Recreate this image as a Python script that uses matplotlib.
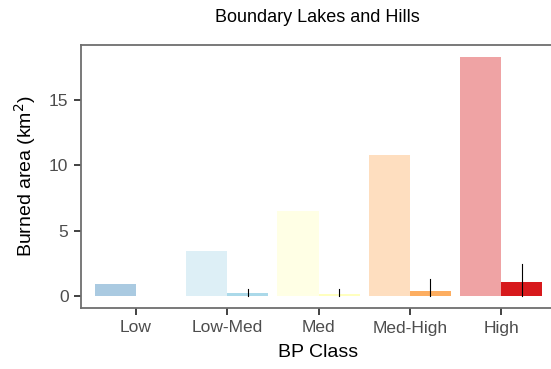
import numpy as np
import matplotlib.pyplot as plt

plt.rcParams['font.family'] = ['Liberation Sans', 'DejaVu Sans']

classes = ['Low', 'Low-Med', 'Med', 'Med-High', 'High']
colors = ['#2c7bb6', '#abd9e9', '#ffffbf', '#fdae61', '#d7191c']
# light bars: total area per class; dark bars: burned area with error range
total_area = [0.92, 3.45, 6.5, 10.8, 18.3]
burned = [0.0, 0.2, 0.17, 0.4, 1.07]
err_lo = [np.nan, 0.0, 0.0, 0.0, 0.0]
err_hi = [np.nan, 0.5, 0.55, 1.3, 2.45]

x = np.arange(1, len(classes) + 1)
w = 0.45

fig = plt.figure(figsize=(5.51, 3.69), dpi=100)
ax = fig.add_axes([81/551, 61/369, 475/551, 263/369])

ax.bar(x - w/2, total_area, width=w, color=colors, alpha=0.4, linewidth=0, zorder=2)
ax.bar(x + w/2, burned, width=w, color=colors, alpha=1.0, linewidth=0, zorder=2)
for xi, lo, hi in zip(x + w/2, err_lo, err_hi):
    if not np.isnan(hi):
        ax.plot([xi, xi], [lo, hi], color='black', lw=0.8, zorder=3)

ax.set_xlim(0.4, 5.6)
ax.set_ylim(-0.92, 19.2)
ax.set_xticks(x)
ax.set_xticklabels(classes)
ax.set_yticks([0, 5, 10, 15])
ax.tick_params(colors='#333333', labelcolor='#4d4d4d', labelsize=12.5, length=5, width=1.3, pad=4)
for s in ax.spines.values():
    s.set_color('#6e6e6e')
    s.set_linewidth(1.3)
ax.spines['right'].set_visible(False)

ax.set_xlabel('BP Class', fontsize=14, labelpad=6)
ax.set_ylabel('Burned area (km$^2$)', fontsize=14, labelpad=8)
fig.text(317/551, 1 - 18/369, 'Boundary Lakes and Hills', ha='center', va='center', fontsize=13)

fig.savefig('out.png', dpi=100)
